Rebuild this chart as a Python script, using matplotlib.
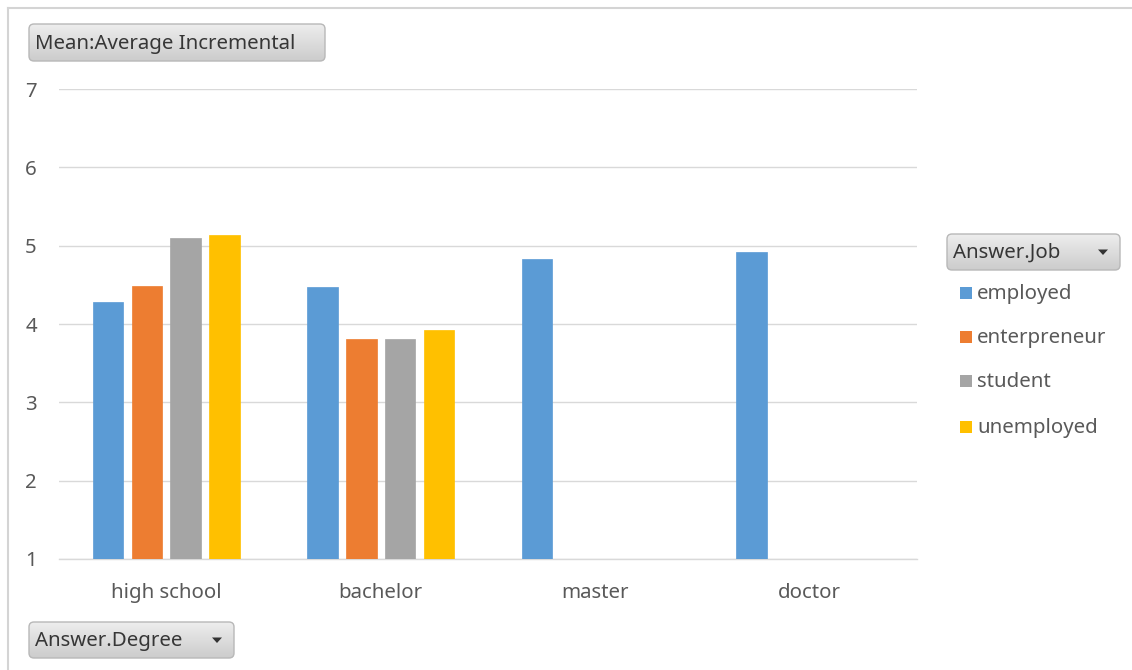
import numpy as np
import matplotlib
matplotlib.use("Agg")
import matplotlib.pyplot as plt
from matplotlib.patches import FancyBboxPatch, Rectangle, Polygon

# Data
degrees = ["high school", "bachelor", "master", "doctor"]
jobs = ["employed", "enterpreneur", "student", "unemployed"]
employed = [4.28, 4.47, 4.83, 4.92]
enterpreneur = [4.49, 3.81, np.nan, np.nan]
student = [5.10, 3.81, np.nan, np.nan]
unemployed = [5.13, 3.92, np.nan, np.nan]
series = [employed, enterpreneur, student, unemployed]
colors = ["#5B9BD5", "#ED7D31", "#A5A5A5", "#FFC000"]
y_ticks = [1, 2, 3, 4, 5, 6, 7]

plt.rcParams["font.family"] = ["Noto Sans", "DejaVu Sans"]
FS = 14.7

W, H = 1132, 670
fig = plt.figure(figsize=(W / 100, H / 100), dpi=100)
fig.patch.set_facecolor("white")

ax = fig.add_axes([59 / W, 1 - 559 / H, (917 - 59) / W, (559 - 89) / H])
x = np.arange(len(degrees))
step = 0.181
width = 0.142
for i, (vals, col, name) in enumerate(zip(series, colors, jobs)):
    ax.bar(x + (i - 1.5) * step, vals, width=width, color=col, label=name,
           zorder=3, edgecolor=col, linewidth=0.5, bottom=0)
ax.set_ylim(1, 7)
ax.set_xlim(-0.5, len(degrees) - 0.5)
ax.set_yticks(y_ticks)
ax.set_xticks(x)
ax.set_xticklabels(degrees)
ax.grid(axis="y", color="#D9D9D9", linewidth=1.0, zorder=0)
for s in ["top", "right", "left"]:
    ax.spines[s].set_visible(False)
ax.spines["bottom"].set_color("#D9D9D9")
ax.spines["bottom"].set_linewidth(1.0)
ax.tick_params(axis="both", length=0, labelsize=FS, colors="#595959")
ax.tick_params(axis="y", pad=16)
ax.tick_params(axis="x", pad=17)

# Overlay in pixel coordinates for the frame, field buttons and legend
ov = fig.add_axes([0, 0, 1, 1], zorder=5)
ov.set_xlim(0, W)
ov.set_ylim(H, 0)
ov.axis("off")
ov.patch.set_alpha(0)

ov.plot([7.5, W], [7.5, 7.5], color="#D4D4D4", lw=1.5)
ov.plot([7.5, 7.5], [7.5, H], color="#D4D4D4", lw=1.5)


def button(x0, y0, w, h, text, arrow=False):
    grad = np.linspace(0, 1, 64).reshape(-1, 1)
    top = np.array([0.93, 0.93, 0.93])
    bot = np.array([0.80, 0.80, 0.80])
    img = top + (bot - top) * grad[..., None]
    img = np.repeat(img, 2, axis=1)
    patch = FancyBboxPatch((x0, y0), w, h, boxstyle="round,pad=0,rounding_size=5",
                           facecolor="none", edgecolor="#B8B8B8", lw=1.0, zorder=6)
    ov.add_patch(patch)
    im = ov.imshow(img, extent=(x0, x0 + w, y0 + h, y0), aspect="auto", zorder=5.5)
    im.set_clip_path(patch)
    ov.text(x0 + 6, y0 + h / 2 + 1, text, fontsize=FS, color="#363636",
            va="center", ha="left", zorder=7)
    if arrow:
        cx, cy = x0 + w - 17, y0 + h / 2
        ov.add_patch(Polygon([[cx - 5, cy - 2.5], [cx + 5, cy - 2.5], [cx, cy + 3]],
                             closed=True, facecolor="#333333", edgecolor="none", zorder=7))


button(29, 24, 296, 37, "Mean:Average Incremental")
button(947, 234, 173, 36, "Answer.Job", arrow=True)
button(29, 622, 205, 36, "Answer.Degree", arrow=True)

# Legend entries
leg_y = [294, 338, 382, 428]
for name, col, yy in zip(jobs, colors, leg_y):
    ov.add_patch(Rectangle((960, yy - 7), 12, 12, facecolor=col, edgecolor="none", zorder=7))
    ov.text(977, yy, name, fontsize=FS, color="#595959", va="center", ha="left", zorder=7)

fig.savefig("out.png", dpi=100, facecolor="white")
